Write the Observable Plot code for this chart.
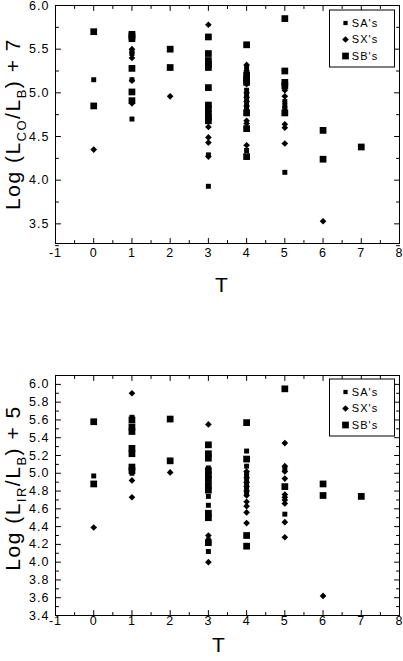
<!DOCTYPE html>
<html><head><meta charset="utf-8">
<script src="https://cdn.jsdelivr.net/npm/d3@7"></script>
<script src="https://cdn.jsdelivr.net/npm/@observablehq/plot@0.6"></script>
<style>
body{margin:0;background:#fff}
svg{display:block}
</style>
</head><body><div id="c"></div>
<script>
// ---- data: [T, value] ----
const coSA = [[0,5.15],[1,5.47],[1,5.45],[1,5.15],[1,4.70],[3,4.29],[3,3.93],
  [4,5.28],[4,5.22],[4,5.03],[4,4.98],[4,4.93],[4,4.88],[4,4.82],[4,4.34],
  [5,4.90],[5,4.85],[5,4.82],[5,4.09]];
const coSX = [[0,4.35],[1,5.50],[1,5.40],[1,5.14],[1,4.88],[2,4.96],
  [3,5.78],[3,4.61],[3,4.49],[3,4.43],[3,4.27],
  [4,5.32],[4,5.25],[4,5.10],[4,5.00],[4,4.95],[4,4.90],[4,4.85],[4,4.80],[4,4.68],[4,4.65],[4,4.40],
  [5,5.03],[5,4.96],[5,4.64],[5,4.60],[5,4.42],[6,3.53]];
const coSB = [[0,5.70],[0,4.85],[1,5.67],[1,5.65],[1,5.62],[1,5.28],[1,5.01],[1,4.91],
  [2,5.50],[2,5.29],
  [3,5.64],[3,5.45],[3,5.37],[3,5.33],[3,5.29],[3,5.06],[3,4.86],[3,4.82],[3,4.76],[3,4.72],[3,4.68],
  [4,5.55],[4,5.20],[4,5.15],[4,5.12],[4,4.77],[4,4.59],[4,4.27],
  [5,5.85],[5,5.25],[5,5.12],[5,5.08],[5,4.77],[6,4.57],[6,4.24],[7,4.38]];

const irSA = [[0,4.97],[1,5.63],[1,5.00],[3,5.06],[3,4.74],[3,4.64],[3,4.25],[3,4.12],
  [4,5.25],[4,5.08],[4,5.00],[4,4.97],[4,4.92],[4,4.87],[4,4.82],[4,4.77],[5,5.05],[5,4.54]];
const irSX = [[0,4.39],[1,5.90],[1,4.92],[1,4.73],[2,5.01],[3,5.55],[3,4.30],[3,4.00],
  [4,5.02],[4,4.95],[4,4.90],[4,4.85],[4,4.80],[4,4.75],[4,4.68],[4,4.63],[4,4.56],[4,4.44],
  [5,5.34],[5,5.08],[5,5.02],[5,4.94],[5,4.76],[5,4.73],[5,4.70],[5,4.66],[5,4.45],[5,4.28],[6,3.62]];
const irSB = [[0,5.58],[0,4.88],[1,5.60],[1,5.52],[1,5.47],[1,5.28],[1,5.22],[1,5.07],[1,5.03],
  [2,5.61],[2,5.14],
  [3,5.32],[3,5.22],[3,5.17],[3,5.03],[3,4.98],[3,4.93],[3,4.86],[3,4.81],[3,4.55],[3,4.50],[3,4.22],
  [4,5.57],[4,5.16],[4,4.30],[4,4.18],[5,5.95],[5,4.85],[6,4.88],[6,4.75],[7,4.74]];

const xMajor = [-1,0,1,2,3,4,5,6,7,8];
const xMinor = [-0.5,0.5,1.5,2.5,3.5,4.5,5.5,6.5,7.5];
const coYMajor = [3.5,4.0,4.5,5.0,5.5,6.0];
const coYMinor = [3.25,3.75,4.25,4.75,5.25,5.75];
const irYMajor = [3.4,3.6,3.8,4.0,4.2,4.4,4.6,4.8,5.0,5.2,5.4,5.6,5.8,6.0];
const irYMinor = [3.5,3.7,3.9,4.1,4.3,4.5,4.7,4.9,5.1,5.3,5.5,5.7,5.9,6.1];
const legendLabels = ["SA's","SX's","SB's"];

const FONT = "Liberation Sans, Arial, Helvetica, sans-serif";
const R_SA = 2.8, R_SX = 3.0, R_SB = 3.8;
const tickShape = {draw(ctx, l){ ctx.moveTo(0,0); ctx.lineTo(0,-l); }};

function edgeTicks(vals, axis, len){
  const o = {length: len, anchor: "start", shape: tickShape, stroke: "#000", strokeWidth: 1};
  if (axis === "x") return [
    Plot.vector(vals, {...o, x: d=>d, frameAnchor: "bottom", rotate: 0}),
    Plot.vector(vals, {...o, x: d=>d, frameAnchor: "top", rotate: 180})
  ];
  return [
    Plot.vector(vals, {...o, y: d=>d, frameAnchor: "left", rotate: 90}),
    Plot.vector(vals, {...o, y: d=>d, frameAnchor: "right", rotate: -90})
  ];
}

function panel(cfg){
  const chart = Plot.plot({
    width: 403, height: cfg.height,
    marginLeft: 55, marginRight: 4, marginTop: cfg.mt, marginBottom: cfg.mb,
    style: {fontFamily: FONT, fontSize: "12.5px", color: "#000", background: "#fff", letterSpacing: "1px"},
    x: {domain: [-1, 8]},
    y: {domain: cfg.ydomain},
    marks: [
      Plot.frame({stroke: "#000", strokeWidth: 1}),
      Plot.axisX({ticks: xMajor, tickSize: 0, tickPadding: cfg.xpad, tickFormat: d=>String(d), label: null}),
      Plot.axisY({ticks: cfg.yMajor, tickSize: 0, tickPadding: 6, tickFormat: d3.format(".1f"), label: null}),
      ...edgeTicks(xMajor, "x", 5),
      ...edgeTicks(xMinor, "x", 3),
      ...edgeTicks(cfg.yMajor, "y", 5),
      ...edgeTicks(cfg.yMinor, "y", 3),
      Plot.dot(cfg.sb, {x: d=>d[0], y: d=>d[1], symbol: "square", r: R_SB, fill: "#000", stroke: "none"}),
      Plot.dot(cfg.sx, {x: d=>d[0], y: d=>d[1], symbol: "diamond2", r: R_SX, fill: "#000", stroke: "none"}),
      Plot.dot(cfg.sa, {x: d=>d[0], y: d=>d[1], symbol: "square", r: R_SA, fill: "#000", stroke: "none"})
    ]
  });
  const svg = d3.select(chart);
  // y label with subscripts
  const t = svg.append("text")
    .attr("transform", `translate(${cfg.ylx},${cfg.lcy}) rotate(-90)`)
    .attr("text-anchor", "middle")
    .attr("font-family", FONT).attr("font-size", 21).attr("letter-spacing", "1.5px")
    .attr("fill", "#000");
  cfg.ylabel.forEach(([s, dy, small]) => {
    const ts = t.append("tspan").text(s).attr("font-size", small ? 13 : 21);
    if (dy) ts.attr("dy", dy);
  });
  // x label
  svg.append("text").attr("x", cfg.tx).attr("y", cfg.ty)
    .attr("text-anchor", "middle").attr("font-family", FONT).attr("font-size", 21).attr("fill", "#000").text("T");
  // legend
  const g = svg.append("g");
  g.append("rect").attr("x", 329.5).attr("y", cfg.ly).attr("width", 65).attr("height", 57)
    .attr("fill", "#fff").attr("stroke", "#000");
  const syms = [[d3.symbolSquare, 2.4],[d3.symbolDiamond2, R_SX],[d3.symbolSquare, R_SB]];
  legendLabels.forEach((lab, i) => {
    const yy = cfg.ly + 13 + i*16.5;
    g.append("path").attr("transform", `translate(345.5,${yy})`)
      .attr("d", d3.symbol(syms[i][0], Math.PI*syms[i][1]**2)()).attr("fill", "#000");
    g.append("text").attr("x", 365).attr("y", yy).attr("dy", "0.35em")
      .attr("font-family", FONT).attr("font-size", 11).attr("fill", "#000").text(lab);
  });
  return chart;
}

const c = document.getElementById("c");
c.appendChild(panel({
  height: 330, mt: 5, mb: 87, xpad: 5, ydomain: [3.275, 6.0],
  yMajor: coYMajor, yMinor: coYMinor, sa: coSA, sx: coSX, sb: coSB,
  ylabel: [["Log (L"],["CO", 6, true],["/L", -6],["B", 6, true],[") + 7", -6]],
  ylx: 19.5, lcy: 124, tx: 222, ty: 292, ly: 10
}));
c.appendChild(panel({
  height: 331, mt: 45, mb: 46, xpad: 1, ydomain: [3.4, 6.1],
  yMajor: irYMajor, yMinor: irYMinor, sa: irSA, sx: irSX, sb: irSB,
  ylabel: [["Log (L"],["IR", 6, true],["/L", -6],["B", 6, true],[") + 5", -6]],
  ylx: 20, lcy: 158, tx: 219, ty: 322, ly: 49
}));
</script></body></html>
